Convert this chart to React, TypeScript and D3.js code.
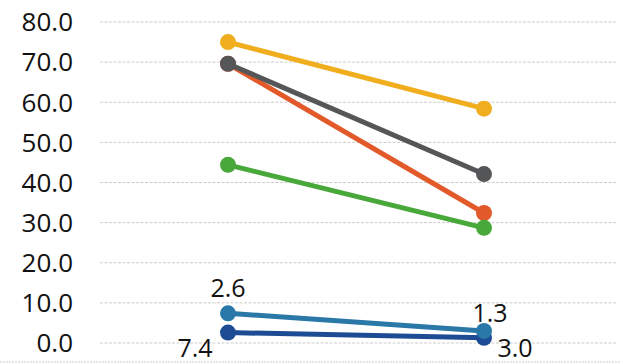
import React from "react";
import * as d3 from "d3";

const categories = ["Before", "After"];
const yTicks = [0, 10, 20, 30, 40, 50, 60, 70, 80];
const seriesNames = ["Yellow", "Orange", "Gray", "Green", "Navy", "Teal"];
const yellowValues = [75.0, 58.4];
const orangeValues = [69.6, 32.4];
const grayValues = [69.6, 42.1];
const greenValues = [44.4, 28.7];
const navyValues = [2.6, 1.3];
const tealValues = [7.4, 3.0];
const seriesColors = ["#F0AE1E", "#E2592A", "#555658", "#48A83A", "#1E4C94", "#2A78A8"];

// data labels: text, series index, category index, dx, dy
const labelTexts = ["2.6", "7.4", "1.3", "3.0"];
const labelSeries = [5, 4, 5, 4];
const labelCats = [0, 0, 1, 1];
const labelDx = [0, -33, 6, 31];
const labelDy = [-16, 24, -9, 19];

const W = 620;
const H = 364;

export default function App() {
  const allValues = [yellowValues, orangeValues, grayValues, greenValues, navyValues, tealValues];
  const x = d3.scaleBand<string>().domain(categories).range([100, 612]);
  const y = d3.scaleLinear().domain([0, 80]).range([343, 22]);
  const cx = (c: string) => (x(c) as number) + x.bandwidth() / 2;
  const line = d3
    .line<number>()
    .x((_, i) => cx(categories[i]))
    .y((v) => y(v));
  const font = "'Open Sans', sans-serif";

  return (
    <svg width={W} height={H} style={{ position: "absolute", left: 0, top: 0, background: "#fff" }}>
      <rect x={0} y={0} width={W} height={H} fill="#fff" />
      {yTicks.map((t) => (
        <g key={t}>
          <line
            x1={100}
            x2={616}
            y1={y(t)}
            y2={y(t)}
            stroke="#cccccc"
            strokeWidth={1}
            strokeDasharray="3,1.5"
          />
          <text
            x={73}
            y={y(t)}
            dy="0.36em"
            textAnchor="end"
            fontFamily={font}
            fontSize={26}
            fill="#111"
          >
            {d3.format(".1f")(t)}
          </text>
        </g>
      ))}
      <line x1={0} x2={W} y1={362} y2={362} stroke="#cccccc" strokeWidth={1} strokeDasharray="2,1" />
      {allValues.map((vals, si) => (
        <g key={seriesNames[si]}>
          <path d={line(vals) || ""} fill="none" stroke={seriesColors[si]} strokeWidth={5} />
          {vals.map((v, i) => (
            <circle key={i} cx={cx(categories[i])} cy={y(v)} r={8} fill={seriesColors[si]} />
          ))}
        </g>
      ))}
      {labelTexts.map((t, i) => (
        <text
          key={i}
          x={cx(categories[labelCats[i]]) + labelDx[i]}
          y={y(allValues[labelSeries[i]][labelCats[i]]) + labelDy[i]}
          textAnchor="middle"
          fontFamily={font}
          fontSize={25}
          fill="#111"
        >
          {t}
        </text>
      ))}
    </svg>
  );
}
